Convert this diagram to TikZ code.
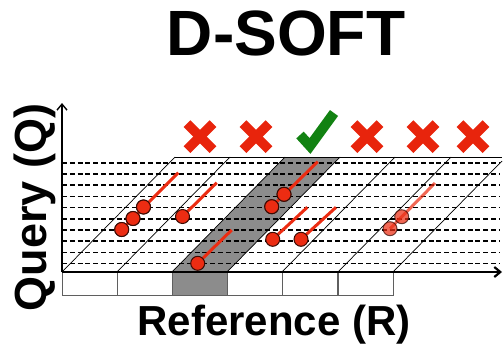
\documentclass[tikz,border=0pt]{standalone}
\usepackage{fontspec}
\setmainfont{Liberation Sans}
\usetikzlibrary{arrows.meta}
\definecolor{xred}{RGB}{232,36,12}
\definecolor{dotred}{RGB}{236,44,18}
\definecolor{okgreen}{RGB}{18,130,18}
\definecolor{band}{RGB}{140,140,140}
\definecolor{cellline}{RGB}{95,95,95}
\tikzset{
  axisline/.style={black, line width=1.4pt},
  qline/.style={black, line width=1.7pt, dash pattern=on 5pt off 2.8pt},
  diagline/.style={black, line width=0.7pt},
  cellbox/.style={draw=cellline, line width=0.9pt},
  dot/.style={circle, fill=dotred, draw=black!75!dotred, line width=1pt, minimum size=14pt, inner sep=0pt},
  hit/.style={dotred, line width=3pt},
  faint/.style={opacity=0.72},
  crossmark/.style={xred, line width=9.5pt, line cap=butt},
  checkmark/.style={okgreen, line width=10pt, line cap=butt, line join=miter},
  biglabel/.style={font=\bfseries\fontsize{42}{42}\selectfont, inner sep=0pt}
}
\begin{document}
\begin{tikzpicture}[x=1pt, y=-1pt]
\useasboundingbox (0,0) rectangle (503,348);

% shaded diagonal band and its reference cell
\fill[band] (172,272) -- (227,272) -- (340,157) -- (285,157) -- cycle;

% reference cells under the axis
\foreach \i [count=\n] in {62,117,172,227,282,338} {
  \pgfmathsetmacro{\j}{\i+55}
  \ifnum\n=3
    \filldraw[cellbox, fill=band] (\i,272) rectangle (\j,295);
  \else
    \draw[cellbox] (\i,272) rectangle (\j,295);
  \fi
}

% query positions
\foreach \k in {0,...,9} {
  \draw[qline] (62,162.8+11.2*\k) -- (500,162.8+11.2*\k);
}

% diagonal bands
\draw[diagline] (175,157) -- (502,157);
\foreach \b in {62,117,172,227,282,338} {
  \draw[diagline] (\b,272) -- (\b+113,157);
}
\draw[diagline] (393,272) -- (502,161);

% axes
\coordinate (o) at (62,272);
\coordinate (qtop) at (62,103);
\coordinate (rend) at (502,272);
\draw[axisline, -{Straight Barb[length=6pt,width=10pt]}] (o) -- (qtop);
\draw[black, line width=2.2pt, -{Straight Barb[length=6pt,width=10pt]}] (o) -- (rend);

% seed hits and their diagonals
\coordinate (a0) at (178.3,172.7);
\coordinate (d0) at (216.7,182.7);
\coordinate (e0) at (231.7,230);
\coordinate (g0) at (317.7,161.7);
\coordinate (h0) at (307.3,207.3);
\coordinate (i0) at (336,207.3);
\coordinate (k0) at (435,183);

\node[dot] (a1) at (121.7,229.5) {};
\node[dot] (a2) at (133,218.5) {};
\node[dot] (a3) at (143.5,207) {};
\draw[hit] (a1.center) -- (a0);
\node[dot] at (a1) {};
\node[dot] at (a2) {};
\node[dot] at (a3) {};

\draw[hit] (182.5,216.5) -- (d0);
\node[dot] (d1) at (182.5,216.5) {};

\draw[hit] (197.7,263.3) -- (e0);
\node[dot] (e1) at (197.7,263.3) {};

\node[dot] (f1) at (271.7,206.7) {};
\node[dot] (g1) at (284,194.3) {};
\draw[hit] (f1.center) -- (g0);
\node[dot] at (f1) {};
\node[dot] at (g1) {};

\draw[hit] (272.7,239.3) -- (h0);
\node[dot] (h1) at (272.7,239.3) {};
\draw[hit] (301,239.3) -- (i0);
\node[dot] (i1) at (301,239.3) {};

\begin{scope}[faint]
\draw[hit] (390,228.7) -- (k0);
\node[dot] (j1) at (390,228.7) {};
\node[dot] (k1) at (401.7,216.7) {};
\end{scope}

% verdict per band
\foreach \c in {200,256,367,423,473} {
  \draw[crossmark] (\c-13,136.7-13) -- (\c+13,136.7+13);
  \draw[crossmark] (\c-13,136.7+13) -- (\c+13,136.7-13);
}
\draw[checkmark] (300,135) -- (310,146) -- (334,113);

% labels
\node[anchor=base, inner sep=0pt, font=\bfseries\fontsize{64}{64}\selectfont] (title) at (286,55) {D-SOFT};
\node[biglabel, anchor=base] (rlabel) at (274,335) {Reference (R)};
\node[biglabel, font=\bfseries\fontsize{45}{45}\selectfont, anchor=base, rotate=90] (qlabel) at (46,207.5) {Query (Q)};
\end{tikzpicture}
\end{document}
